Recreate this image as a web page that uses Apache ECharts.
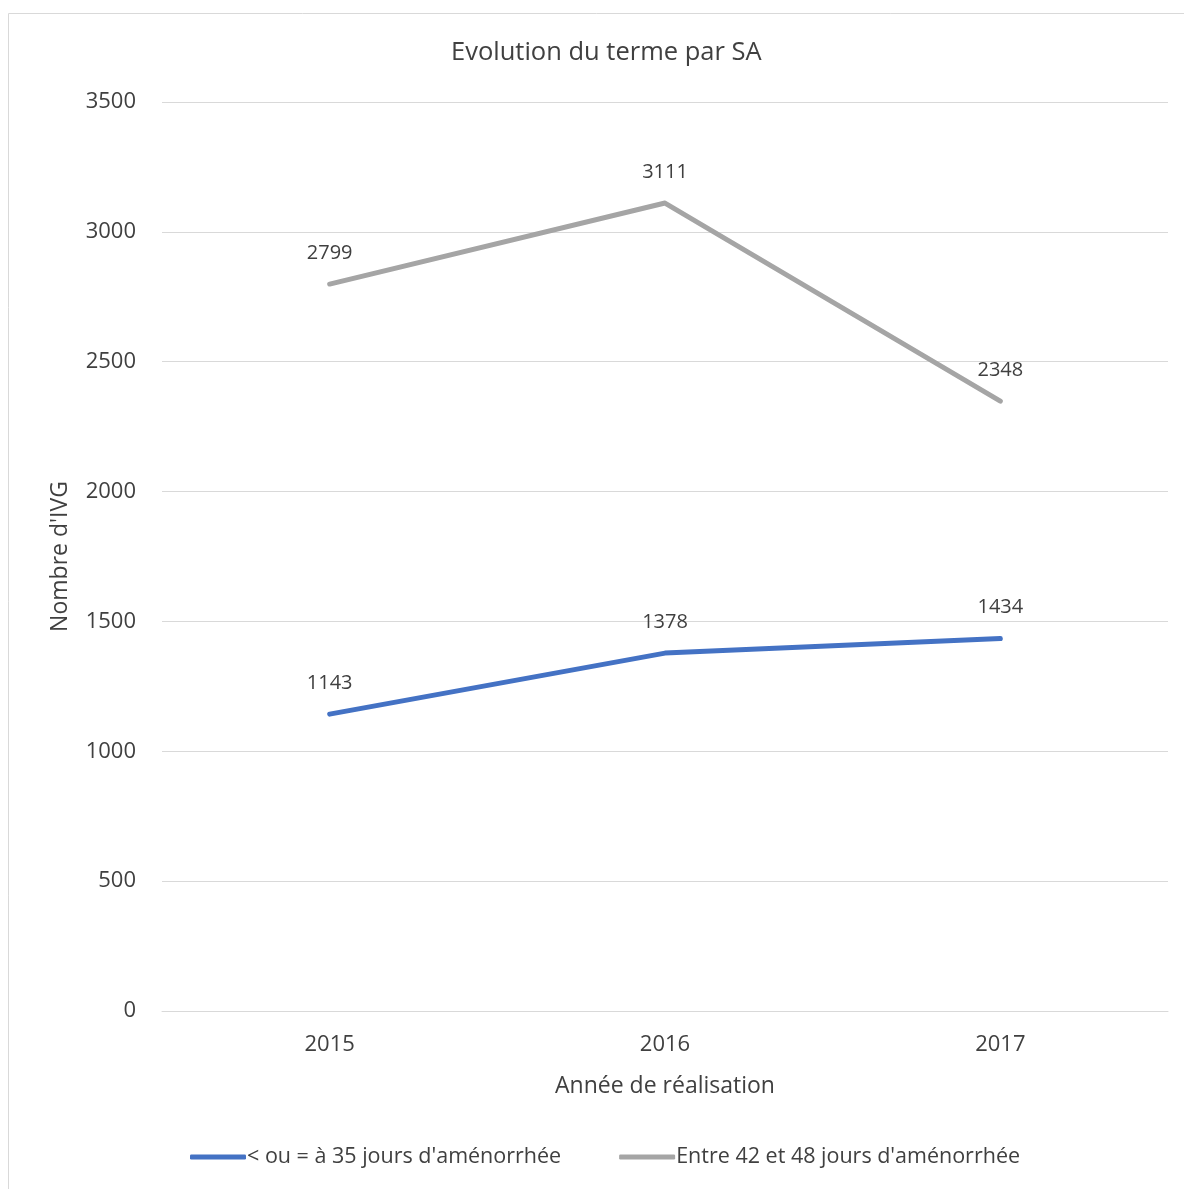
<!DOCTYPE html>
<html>
<head>
<meta charset="utf-8">
<script src="https://cdn.jsdelivr.net/npm/echarts@6/dist/echarts.min.js"></script>
<style>
  html, body { margin: 0; padding: 0; background: #fff; }
  #chart { width: 1184px; height: 1189px; }
</style>
</head>
<body>
<div id="chart"></div>
<script>
const years = ['2015', '2016', '2017'];
const moins35 = [1143, 1378, 1434];
const entre42et48 = [2799, 3111, 2348];
const seriesNames = ["< ou = à 35 jours d'aménorrhée", "Entre 42 et 48 jours d'aménorrhée"];

const font = '"Open Sans", "Liberation Sans", sans-serif';
const textColor = '#404040';

const dataLabel = { show: true, position: 'top', distance: 21, fontSize: 20, color: textColor, fontFamily: font };

const chart = echarts.init(document.getElementById('chart'));
chart.setOption({
  animation: false,
  textStyle: { fontFamily: font },
  title: {
    text: 'Evolution du terme par SA',
    left: 446,
    top: 35,
    textStyle: { fontFamily: font, fontSize: 25.5, fontWeight: 'normal', color: textColor }
  },
  graphic: [{
    type: 'rect',
    shape: { x: 8.5, y: 13.5, width: 1200, height: 1200 },
    style: { fill: 'none', stroke: '#d9d9d9', lineWidth: 1 },
    silent: true
  }],
  grid: { left: 162, right: 16, top: 102, bottom: 178 },
  legend: {
    bottom: 16,
    left: 185,
    itemGap: 58,
    itemWidth: 56,
    itemHeight: 5,
    textStyle: { fontFamily: font, fontSize: 21.5, color: textColor, padding: [0, 0, 0, -4] },
    data: seriesNames.map(n => ({ name: n, icon: 'roundRect' }))
  },
  xAxis: {
    type: 'category',
    data: years,
    name: 'Année de réalisation',
    nameLocation: 'middle',
    nameGap: 64,
    nameTextStyle: { fontFamily: font, fontSize: 23, color: textColor },
    axisLine: { lineStyle: { color: '#d9d9d9', width: 1 } },
    axisTick: { show: false },
    axisLabel: { fontSize: 22, color: textColor, margin: 23, fontFamily: font }
  },
  yAxis: {
    type: 'value',
    min: 0,
    max: 3500,
    interval: 500,
    name: "Nombre d'IVG",
    nameLocation: 'middle',
    nameGap: 90,
    nameTextStyle: { fontFamily: font, fontSize: 23, color: textColor },
    axisLine: { show: false },
    axisTick: { show: false },
    axisLabel: { fontSize: 22, color: textColor, margin: 26, fontFamily: font, formatter: v => String(v) },
    splitLine: { lineStyle: { color: '#d9d9d9', width: 1 } }
  },
  series: [
    {
      name: seriesNames[0],
      type: 'line',
      data: moins35,
      symbol: 'circle',
      symbolSize: 0,
      lineStyle: { color: '#4472c4', width: 5, cap: 'round', join: 'round' },
      itemStyle: { color: '#4472c4' },
      label: dataLabel
    },
    {
      name: seriesNames[1],
      type: 'line',
      data: entre42et48,
      symbol: 'circle',
      symbolSize: 0,
      lineStyle: { color: '#a5a5a5', width: 5, cap: 'round', join: 'round' },
      itemStyle: { color: '#a5a5a5' },
      label: dataLabel
    }
  ]
});
</script>
</body>
</html>
